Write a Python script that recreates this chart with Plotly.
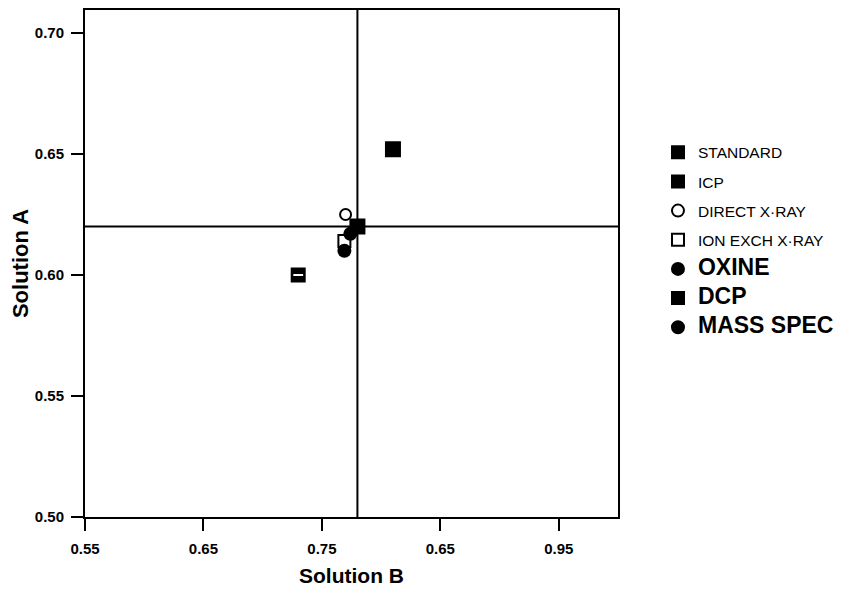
import plotly.graph_objects as go

# ---- data ----
series_names = ["STANDARD", "ICP", "DIRECT X·RAY", "ION EXCH X·RAY", "OXINE", "DCP", "MASS SPEC"]
solution_b = [0.780, 0.810, 0.770, 0.769, 0.774, 0.730, 0.769]
solution_a = [0.620, 0.652, 0.625, 0.614, 0.617, 0.600, 0.610]
reference_b = 0.780   # vertical reference line
reference_a = 0.620   # horizontal reference line

x_tickvals = [0.55, 0.65, 0.75, 0.85, 0.95]
x_ticktext = ["0.55", "0.65", "0.75", "0.65", "0.95"]
y_tickvals = [0.50, 0.55, 0.60, 0.65, 0.70]
y_ticktext = ["0.50", "0.55", "0.60", "0.65", "0.70"]

# ---- styles ----
symbols = ["square", "square", "circle-open", "square-open", "circle", "square", "circle"]
sizes = [14, 14, 11, 12, 12, 13, 12]
big = [False, False, False, False, True, True, True]
FONT = "Liberation Sans, Arial"

fig = go.Figure()

# reference lines
fig.add_hline(y=reference_a, line=dict(color="black", width=2))
fig.add_vline(x=reference_b, line=dict(color="black", width=2))

for i, name in enumerate(series_names):
    label = f"<b><span style='font-size:23px'>{name}</span></b>" if big[i] else name
    fig.add_trace(go.Scatter(
        x=[solution_b[i]], y=[solution_a[i]], mode="markers", name=label,
        legendgroup=name,
        marker=dict(symbol=symbols[i], size=sizes[i], color="black",
                    line=dict(color="black", width=2)),
    ))
    if name == "DCP":
        fig.add_trace(go.Scatter(
            x=[solution_b[i]], y=[solution_a[i]], mode="markers", showlegend=False,
            legendgroup=name, hoverinfo="skip",
            marker=dict(symbol="line-ew", size=7, color="white",
                        line=dict(color="white", width=2)),
        ))

axis_common = dict(showline=True, linecolor="black", linewidth=2, mirror=True,
                   ticks="outside", ticklen=12, tickwidth=2, tickcolor="black",
                   showgrid=False, zeroline=False,
                   tickfont=dict(family=FONT, size=15, color="black"))

fig.update_xaxes(range=[0.55, 1.0], tickvals=x_tickvals,
                 ticktext=[f"<b>{t}</b>" for t in x_ticktext], ticklabelstandoff=5,
                 title=dict(text="<b>Solution B</b>", font=dict(family=FONT, size=21, color="black"), standoff=12),
                 **axis_common)
fig.update_yaxes(range=[0.50, 0.7095], tickvals=y_tickvals,
                 ticktext=[f"<b>{t}</b>" for t in y_ticktext], ticklabelstandoff=4,
                 title=dict(text="<b>Solution A</b>", font=dict(family=FONT, size=22, color="black"), standoff=4),
                 **axis_common)

fig.update_layout(
    width=837, height=593,
    margin=dict(l=77, r=227, t=2, b=84, autoexpand=False),
    plot_bgcolor="white", paper_bgcolor="white",
    font=dict(family=FONT, color="black"),
    legend=dict(x=1.075, y=0.752, xanchor="left", yanchor="top",
                font=dict(size=15.5, family=FONT, color="black"),
                tracegroupgap=6, itemsizing="constant", bgcolor="rgba(0,0,0,0)"),
    showlegend=True,
)

fig.write_html("out.html")
